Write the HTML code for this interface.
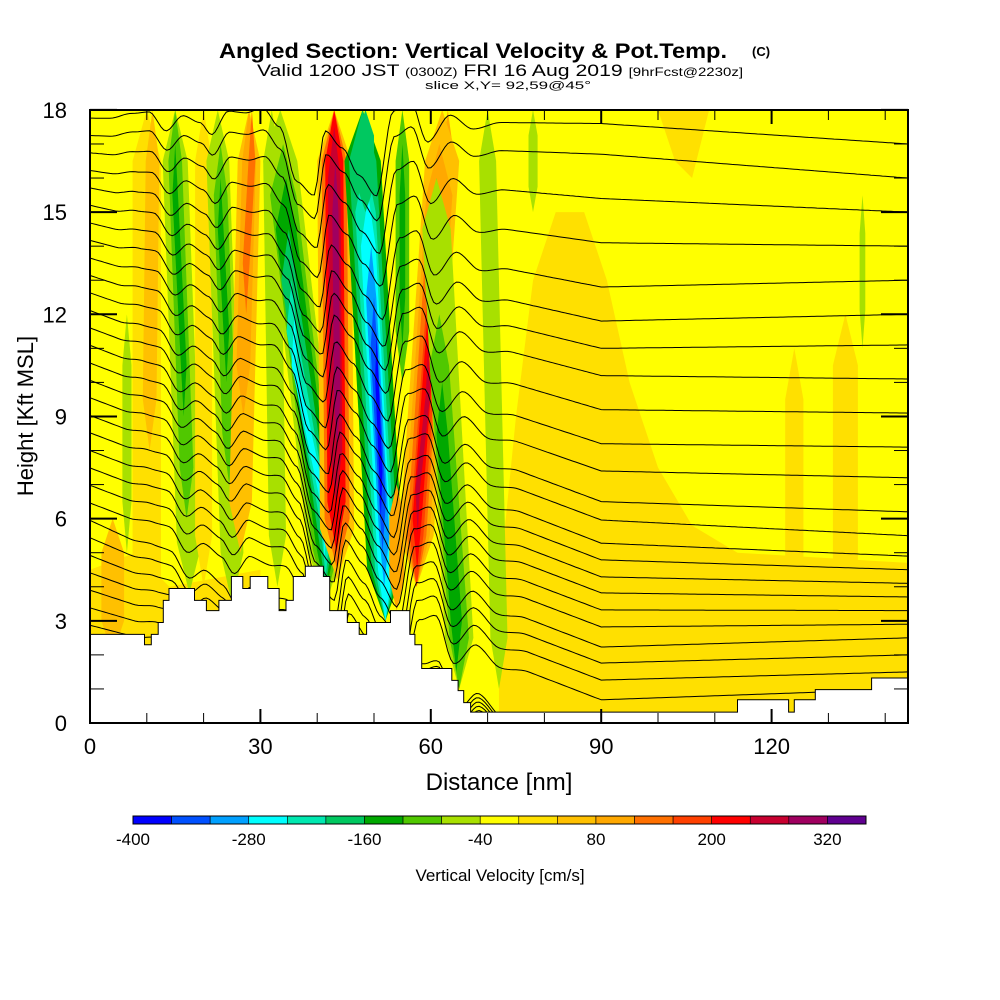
<!DOCTYPE html>
<html><head><meta charset="utf-8"><style>
html,body{margin:0;padding:0;background:#fff;width:1000px;height:1000px;overflow:hidden}
svg{display:block;font-family:"Liberation Sans",sans-serif}
</style></head><body>
<svg id="chart" width="1000" height="1000" viewBox="0 0 1000 1000">
<g>
<text x="473" y="58" font-size="21" font-weight="bold" text-anchor="middle" textLength="508" lengthAdjust="spacingAndGlyphs">Angled Section: Vertical Velocity &amp; Pot.Temp.</text>
<text x="752" y="56" font-size="13" font-weight="bold" text-anchor="start">(C)</text>
<text x="500" y="76" font-size="17" text-anchor="middle" textLength="486" lengthAdjust="spacingAndGlyphs">Valid 1200 JST <tspan font-size="12">(0300Z)</tspan> FRI 16 Aug 2019 <tspan font-size="12">[9hrFcst@2230z]</tspan></text>
<text x="508" y="89" font-size="11" text-anchor="middle" textLength="166" lengthAdjust="spacingAndGlyphs">slice X,Y= 92,59@45°</text>
</g>
<defs><clipPath id="plotclip"><rect x="90" y="110" width="818" height="613"/></clipPath></defs>
<g id="plot" clip-path="url(#plotclip)">
<rect x="90" y="110" width="818" height="613" fill="#ffff00"/>
<g id="regions"></g>
<g id="bands"></g>
<g id="lines"></g>
<polygon id="terrain" fill="#fff" stroke="#000" stroke-width="1"/>
</g>
<rect x="90" y="110" width="818" height="613" fill="none" stroke="#000" stroke-width="2"/>
<g id="axes"></g>
<text x="499" y="790" font-size="24" text-anchor="middle">Distance [nm]</text>
<text transform="translate(33,416) rotate(-90)" font-size="22" text-anchor="middle">Height [Kft MSL]</text>
<g id="colorbar"></g>
<text x="500" y="881" font-size="17" text-anchor="middle">Vertical Velocity [cm/s]</text>
</svg>
<script>
// ---- data ----
const binColors = ["#0000ff","#0050ff","#00a0ff","#00ffff","#00e8b0","#00c860","#00a800","#50c800","#a8e000","#ffff00","#ffe000","#ffc000","#ffa800","#ff7000","#ff4000","#ff0000","#c80030","#a00060","#600090"];
const cbLabels = [-400,-280,-160,-40,80,200,320];
const xTicks = [0,30,60,90,120];
const yTicks = [0,3,6,9,12,15,18];
// bands: [topNm, bottomNm, topKft, bottomKft, halfWidthNm, bin]
const bands = [
 [4,4,6,2.0,2,11],
 [6.5,6.5,12,5,0.8,8],
 [10,10,18,2.6,2.5,10],[11,10.5,18,8,1.2,11],
 [15,17.5,18,3.8,2.2,8],[15,17,18,6,1.2,7],[15,16.5,17,9,0.5,6],
 [20,20,18,4,1.5,10],
 [22.5,25,18,3.5,2,8],[23,24.5,17,7,1.2,7],[23,24,16,10,0.5,6],
 [28,26.5,18,5,2,11],[28,27,18,9,1.2,12],[28.5,27.5,18,12,0.6,13],
 [32,33,18,4,1.5,8],
 [33.5,41.5,18,3.5,3,8],[34,41.5,17,3.6,2.3,7],[34.5,41.5,16,3.8,1.8,6],[35,41.5,14.5,4,1.3,5],[35.5,41.5,13,4.3,0.9,4],[36,41.3,12,4.8,0.5,3],
 [43,43.5,18,4.2,3,11],[43,43.5,18,4.5,2.2,13],[43,43.4,18,5,1.6,15],[43,43.3,17.5,6.5,1.1,16],[43.2,43.5,16.5,8,0.55,17],
 [48,52,18,3,3.2,6],[48,52,18,3,2.4,5],[48.5,52,16.5,3,1.8,4],[49,52,15.5,3,1.3,3],[49.5,51.8,14,4,0.9,2],[50,51.5,12.5,5,0.6,1],[50.5,51.2,11.5,6,0.3,0],
 [48.5,48.5,18,15,1.5,5],
 [55,55,18,10,1.2,7],[55,55,17,11,0.5,6],
 [54,54,7,3.3,1.3,12],
 [63,61,18,8,1.2,12],
 [62,57.5,18,4,3,11],[61.5,57.5,17,4,2.3,12],[61,57.5,16,4,1.7,13],[60.5,57.5,14,4,1.2,14],[60,57.6,13,4.5,0.8,15],[59.5,57.7,11,5.5,0.4,16],
 [61,65,16,1.0,2.5,8],[61.5,65,12,1.0,1.7,7],[62,64.5,10,1.5,1,6],
 [70,72,18,1,1.5,8],[78,78,18,15,0.8,8],
 [124,124,11,0.5,1.6,10],[133,133,12,1.5,2.2,10],[136,136,15.5,11,0.5,8]
];
// gold regions: point lists [nm,kft]
const regions = [
 [[72,0],[72,4],[75,9],[78,13],[82,15],[87,15],[91,13],[95,10],[100,7.5],[106,5.8],[114,5.0],[144,4.7],[144,0]],
 [[100,18],[103,16.5],[106,16],[109,18]],
 [[0,0],[0,4.5],[8,5],[14,4],[30,4.5],[30,0]]
];
const regionBins = [10,10,10];
// theta contour heights (kft) at anchor distances
const thetaLeft = [17.76,17.25,16.74,16.22,15.71,15.20,14.68,14.17,13.65,13.14,12.63,12.11,11.60,11.09,10.57,10.06,9.55,9.03,8.52,8.00,7.49,6.98,6.46,5.95,5.44,4.92,4.41,3.90,3.38,2.87];
const thetaMid  = [17.6,16.7,15.4,14.1,12.8,11.8,11.0,10.2,9.2,8.2,7.4,6.5,5.96,5.28,4.79,4.29,3.82,3.32,2.82,2.23,1.76,1.26,0.68,-1,-1,-1,-1,-1,-1,-1];
const thetaRight= [17.0,16.0,15.0,14.0,13.0,12.0,11.1,10.1,9.1,8.1,7.2,6.2,5.5,4.9,4.5,4.1,3.7,3.3,2.9,2.5,2.0,1.5,1.0,-1,-1,-1,-1,-1,-1,-1];
// wave displacement (kft) of isentropes vs distance
const dispX =  [0,6,10,13,16,19,22,24,27,30,33,36,39,42,44,47,50,53,56,59,62,66,70,75,82,144];
const dispVal= [0,0,0.15,0.2,-0.35,0.1,-0.1,-0.45,0.25,0.2,0.35,-0.2,-1.8,-2.2,-0.3,-0.8,-1.6,-2.2,0.3,0.6,-0.6,0.2,-0.2,0,0,0];
// terrain profile [nm, kft]
const terrainPts = [[0,2.6],[9.6,2.6],[9.6,2.3],[10.8,2.3],[10.8,2.6],[12,2.6],[12,2.95],[12.9,2.95],[12.9,3.6],[13.9,3.6],[13.9,3.95],[18.4,3.95],[18.4,3.6],[20.5,3.6],[20.5,3.3],[22.7,3.3],[22.7,3.6],[24.9,3.6],[24.9,4.3],[26.9,4.3],[26.9,3.95],[28.2,3.95],[28.2,4.3],[31.3,4.3],[31.3,3.95],[33.3,3.95],[33.3,3.3],[34.5,3.3],[34.5,3.6],[35.8,3.6],[35.8,4.3],[37.9,4.3],[37.9,4.6],[41.1,4.6],[41.1,4.3],[42.2,4.3],[42.2,3.3],[45.3,3.3],[45.3,2.95],[47.4,2.95],[47.4,2.6],[48.7,2.6],[48.7,2.95],[52.9,2.95],[52.9,3.3],[56.3,3.3],[56.3,2.6],[57.2,2.6],[57.2,2.3],[58.4,2.3],[58.4,1.6],[63.7,1.6],[63.7,1.25],[64.8,1.25],[64.8,0.95],[65.8,0.95],[65.8,0.6],[67,0.6],[67,0.32],[114,0.32],[114,0.68],[123,0.68],[123,0.32],[124,0.32],[124,0.68],[127.7,0.68],[127.7,0.98],[137.6,0.98],[137.6,1.32],[144,1.32],[144,-1],[0,-1]];

// ---- axis functions ----
const X = nm => 90 + nm*5.68;
const Y = k => 723 - k*34.06;
const NS = "http://www.w3.org/2000/svg";
function mk(tag, attrs, parent){const e=document.createElementNS(NS,tag);for(const k in attrs)e.setAttribute(k,attrs[k]);parent.appendChild(e);return e;}
function interp(xs, vs, x){if(x<=xs[0])return vs[0];for(let i=1;i<xs.length;i++){if(x<=xs[i]){const t=(x-xs[i-1])/(xs[i]-xs[i-1]);const s=t*t*(3-2*t);return vs[i-1]+(vs[i]-vs[i-1])*s;}}return vs[vs.length-1];}

const gR=document.getElementById('regions');
regions.forEach((r,i)=>{
 const p=mk('polygon',{points:r.map(q=>X(q[0])+','+Y(q[1])).join(' '),fill:binColors[regionBins[i]]},gR);
 
 
});
const gB=document.getElementById('bands');
bands.forEach(b=>{
 const [ct,cb,kt,kb,w,bin]=b;
 const tp=Math.min(1.5,(kt-kb)/4);
 const pts=[[ct-w,kt-tp],[ct,kt],[ct+w,kt-tp],[cb+w,kb+tp],[cb,kb],[cb-w,kb+tp]];
 const p=mk('polygon',{points:pts.map(q=>X(q[0]).toFixed(1)+','+Y(q[1]).toFixed(1)).join(' '),fill:binColors[bin]},gB);
 
 
});
const gL=document.getElementById('lines');
thetaLeft.forEach((_,i)=>{
 let d='';
 for(let x=0;x<=144.01;x+=0.5){
  let z=x<=90?thetaLeft[i]+(thetaMid[i]-thetaLeft[i])*(x/90):thetaMid[i]+(thetaRight[i]-thetaMid[i])*((x-90)/54);
  const xe=x+0.3*(z-9);
  z+=interp(dispX,dispVal,xe);
  d+=(d?'L':'M')+X(x).toFixed(1)+','+Y(z).toFixed(1);
 }
 const p=mk('path',{d:d,fill:'none',stroke:'#000','stroke-width':1},gL);
 
 
});
document.getElementById('terrain').setAttribute('points',terrainPts.map(q=>X(q[0]).toFixed(1)+','+Y(Math.max(q[1],-0.1)).toFixed(1)).join(' '));
const gA=document.getElementById('axes');
for(let nm=0;nm<=140;nm+=10){
 const maj=nm%30===0, L=maj?14:10;
 mk('line',{x1:X(nm),y1:723,x2:X(nm),y2:723-L,stroke:'#000','stroke-width':maj?2:1},gA);
 mk('line',{x1:X(nm),y1:110,x2:X(nm),y2:110+L,stroke:'#000','stroke-width':maj?2:1},gA);
}
for(let k=0;k<=18;k++){
 const maj=k%3===0, L=maj?27:14;
 mk('line',{x1:90,y1:Y(k),x2:90+L,y2:Y(k),stroke:'#000','stroke-width':maj?2:1},gA);
 mk('line',{x1:908,y1:Y(k),x2:908-L,y2:Y(k),stroke:'#000','stroke-width':maj?2:1},gA);
}
xTicks.forEach(v=>{
 const t=mk('text',{x:X(v),y:754,'font-size':22,'text-anchor':'middle'},gA);t.textContent=v;
 
 
});
yTicks.forEach(v=>{
 const t=mk('text',{x:67,y:Y(v)+8,'font-size':22,'text-anchor':'end'},gA);t.textContent=v;
 
 
});
const gC=document.getElementById('colorbar');
const cbX=v=>133+(v+400)*(733/760);
binColors.forEach((c,i)=>{
 const r=mk('rect',{x:cbX(-400+40*i),y:816,width:733/19,height:8,fill:c,stroke:'#000','stroke-width':0.6},gC);
 
 
});
mk('rect',{x:133,y:816,width:733,height:8,fill:'none',stroke:'#000','stroke-width':1},gC);
cbLabels.forEach(v=>{
 const t=mk('text',{x:cbX(v),y:845,'font-size':17,'text-anchor':'middle'},gC);t.textContent=v;
 
 
});
</script>
</body></html>
